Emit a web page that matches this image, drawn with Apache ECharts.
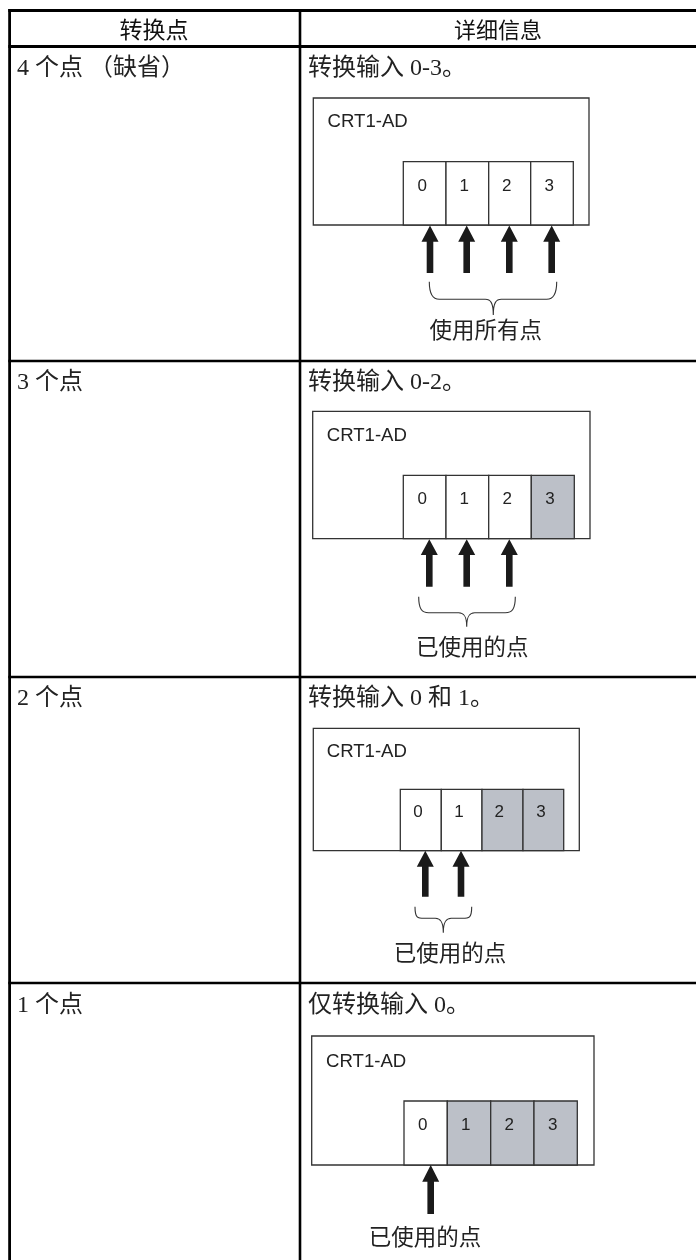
<!DOCTYPE html>
<html>
<head>
<meta charset="utf-8">
<style>html,body{margin:0;padding:0;background:#fff}#c{width:696px;height:1260px}</style>
<script src="https://cdn.jsdelivr.net/npm/echarts@6/dist/echarts.min.js"></script>
</head>
<body>
<div id="c"></div>
<script>
// ---- content ----
const headers = ['转换点', '详细信息'];
const conversionLabels = ['4 个点 （缺省）', '3 个点', '2 个点', '1 个点'];
const detailLabels = ['转换输入 0-3。', '转换输入 0-2。', '转换输入 0 和 1。', '仅转换输入 0。'];
const usedLabels = ['使用所有点', '已使用的点', '已使用的点', '已使用的点'];
const usedCounts = [4, 3, 2, 1];
const channelNumbers = ['0', '1', '2', '3'];
const unitName = 'CRT1-AD';

// ---- page geometry, in the hidden 696x1260 axes ----
const rowRules = [361, 677, 983];
const rowTextY = [68.5, 382.5, 698.5, 1006];
const diagrams = [
  { box: [313.3, 589, 98, 225], cellTop: 161.7, cellX: [403.3, 446, 488.7, 530.7, 573.3], numX: [422.3, 464.3, 506.7, 549.3], numY: 186,
    nameX: 327.5, nameY: 121.7, arrowX: [430, 466.7, 509.3, 551.7], arrowY: [225.5, 241.7, 273],
    brace: [429.3, 556.7, 281.7, 299.3, 315, 493.3], labelX: 485.7, labelY: 329.5 },
  { box: [312.7, 590, 411.3, 538.7], cellTop: 475.3, cellX: [403.3, 446, 488.7, 531.3, 574.3], numX: [422.3, 464.3, 507.3, 550], numY: 499,
    nameX: 326.7, nameY: 436, arrowX: [429.3, 466.7, 509.3], arrowY: [539.3, 555, 586.7],
    brace: [418.7, 515.3, 596.7, 612.7, 626.7, 466.7], labelX: 472.3, labelY: 646.7 },
  { box: [313.3, 579.3, 728.3, 850.7], cellTop: 789.3, cellX: [400.3, 441.3, 482, 523, 563.7], numX: [418, 459, 499.3, 541], numY: 812.3,
    nameX: 326.7, nameY: 751.7, arrowX: [425.3, 461], arrowY: [850.7, 866.7, 896.7],
    brace: [415, 471.7, 906.7, 918.3, 932.7, 443.3], labelX: 450, labelY: 952.7 },
  { box: [311.7, 594, 1036, 1165], cellTop: 1101, cellX: [404, 447.3, 490.7, 534, 577.3], numX: [422.7, 465.7, 509.3, 552.7], numY: 1125,
    nameX: 326, nameY: 1061.7, arrowX: [430.7], arrowY: [1165, 1181.7, 1214],
    brace: null, labelX: 425, labelY: 1236.7 }
];

const BLACK = '#000';
const INK = '#222';
const EDGE = '#333';
const GREY = '#bcc0c8';
const serif = '"Liberation Serif","Noto Sans CJK SC"';
const sans = '"Noto Sans CJK SC"';
const latin = '"Liberation Sans"';

function text(api, x, y, str, font, align, fill) {
  const p = api.coord([x, y]);
  return { type: 'text', style: { x: p[0], y: p[1], text: str, font, align: align || 'left', verticalAlign: 'middle', fill: fill || INK } };
}
function rule(api, x1, y1, x2, y2, w, color) {
  const a = api.coord([x1, y1]), b = api.coord([x2, y2]);
  return { type: 'line', shape: { x1: a[0], y1: a[1], x2: b[0], y2: b[1] }, style: { stroke: color || BLACK, lineWidth: w } };
}
function rect(api, x1, y1, x2, y2, fill, stroke, w) {
  const a = api.coord([x1, y1]), b = api.coord([x2, y2]);
  return { type: 'rect', shape: { x: a[0], y: a[1], width: b[0] - a[0], height: b[1] - a[1] }, style: { fill, stroke, lineWidth: w } };
}

function renderFrame(params, api) {
  const ch = [
    rule(api, 8.3, 10.5, 696, 10.5, 3), rule(api, 8.3, 46.5, 696, 46.5, 3),
    rule(api, 9.6, 9, 9.6, 1260, 2.8), rule(api, 300, 9, 300, 1260, 2.6),
    text(api, 154, 29.5, headers[0], '23px ' + sans, 'center', '#111'),
    text(api, 498, 29.5, headers[1], '22px ' + sans, 'center', '#111')
  ];
  rowRules.forEach(y => ch.push(rule(api, 8.3, y, 696, y, 2.6)));
  return { type: 'group', children: ch };
}

function renderRow(params, api) {
  const i = api.value(0), y = rowTextY[i];
  return { type: 'group', children: [
    text(api, 17, y, conversionLabels[i], '24px ' + serif),
    text(api, 308, y, detailLabels[i], '24px ' + serif)
  ]};
}

function renderDiagram(params, api) {
  const i = api.value(0), used = api.value(1), d = diagrams[i], ch = [];
  const [l, r, t, b] = d.box;
  ch.push(rect(api, l, t, r, b, '#fff', EDGE, 1.3));
  channelNumbers.forEach((n, k) => {
    ch.push(rect(api, d.cellX[k], d.cellTop, d.cellX[k + 1], b, k < used ? '#fff' : GREY, EDGE, 1.3));
    ch.push(text(api, d.numX[k], d.numY, n, '17px ' + latin, 'center'));
  });
  ch.push(text(api, d.nameX, d.nameY, unitName, '18.6px ' + latin));
  d.arrowX.forEach(x => {
    const [tip, base, end] = d.arrowY;
    const P = (dx, y) => api.coord([x + dx, y]);
    ch.push({ type: 'polygon', shape: { points: [P(0, tip), P(8.5, base), P(3.3, base), P(3.3, end), P(-3.3, end), P(-3.3, base), P(-8.5, base)] }, style: { fill: '#1a1a1a' } });
  });
  if (d.brace) {
    const [x1, x2, top, h, tip, c] = d.brace;
    const a = (x, y) => api.coord([x, y]).join(' ');
    const path = 'M' + a(x1, top) + ' C' + a(x1, top + 12) + ' ' + a(x1 + 3, h) + ' ' + a(x1 + 10, h) +
      ' L' + a(c - 8, h) + ' C' + a(c - 3, h) + ' ' + a(c, h + 3) + ' ' + a(c, tip) +
      ' C' + a(c, h + 3) + ' ' + a(c + 3, h) + ' ' + a(c + 8, h) +
      ' L' + a(x2 - 10, h) + ' C' + a(x2 - 3, h) + ' ' + a(x2, top + 12) + ' ' + a(x2, top);
    ch.push({ type: 'path', shape: { pathData: path }, style: { fill: 'none', stroke: EDGE, lineWidth: 1.1 } });
  }
  ch.push(text(api, d.labelX, d.labelY, usedLabels[i], '22.5px ' + sans, 'center'));
  return { type: 'group', children: ch };
}

const chart = echarts.init(document.getElementById('c'), null, { renderer: 'canvas', width: 696, height: 1260 });
chart.setOption({
  animation: false,
  backgroundColor: '#fff',
  grid: { left: 0, right: 0, top: 0, bottom: 0 },
  xAxis: { type: 'value', min: 0, max: 696, show: false },
  yAxis: { type: 'value', min: 0, max: 1260, inverse: true, show: false },
  series: [
    { type: 'custom', coordinateSystem: 'cartesian2d', silent: true, clip: false, renderItem: renderFrame, data: [[0]], encode: { x: 0, y: 0 } },
    { type: 'custom', coordinateSystem: 'cartesian2d', silent: true, clip: false, renderItem: renderRow, data: conversionLabels.map((_, i) => [i]), encode: { x: 0, y: 0 } },
    { type: 'custom', coordinateSystem: 'cartesian2d', silent: true, clip: false, renderItem: renderDiagram, data: usedCounts.map((u, i) => [i, u]), encode: { x: 0, y: 0 } }
  ]
});
</script>
</body>
</html>
